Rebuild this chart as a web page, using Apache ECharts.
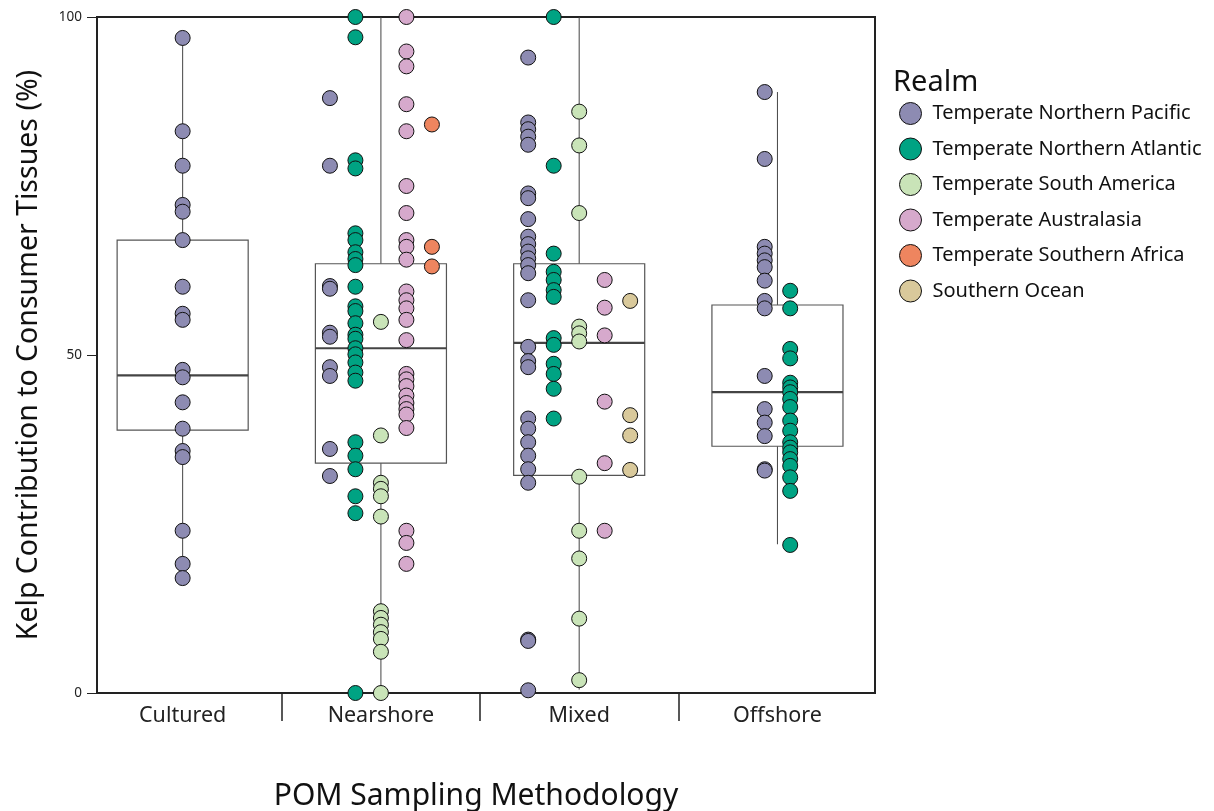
<!DOCTYPE html>
<html><head><meta charset="utf-8">
<script src="https://cdn.jsdelivr.net/npm/echarts@6/dist/echarts.min.js"></script>
<style>html,body{margin:0;padding:0;background:#fff}#c{width:1214px;height:811px}</style>
</head><body><div id="c"></div>
<script>
const categories = ['Cultured', 'Nearshore', 'Mixed', 'Offshore'];
const realms = ['Temperate Northern Pacific', 'Temperate Northern Atlantic', 'Temperate South America',
  'Temperate Australasia', 'Temperate Southern Africa', 'Southern Ocean'];
const realmColors = ['#8D8BB2', '#00A383', '#C9E4B8', '#D6A9CC', '#EE855F', '#D9C99B'];
const yTicks = [0, 50, 100];

// Points (Kelp contribution, %) by category and realm
const culturedTNP = [96.9, 83.1, 78.0, 72.2, 71.2, 67.0, 60.1, 56.1, 55.2, 47.8, 46.7, 43.0, 39.1, 35.8, 34.9, 24.0, 19.1, 17.0];

const nearshoreTNP = [88.0, 78.0, 60.2, 59.8, 53.3, 52.7, 48.2, 46.9, 36.1, 32.1];
const nearshoreTNA = [100, 97.0, 78.8, 77.6, 68.0, 67.0, 65.2, 64.2, 63.3, 60.1, 57.2, 56.5, 54.7, 53.0, 52.4, 51.0, 50.1, 48.9, 47.4, 46.2, 37.1, 35.1, 33.1, 29.1, 26.6, 0];
const nearshoreTSA = [54.9, 38.1, 31.1, 30.2, 29.1, 26.1, 12.1, 11.1, 10.1, 9.0, 8.0, 6.1, 0];
const nearshoreTA = [100, 94.9, 92.7, 87.1, 83.1, 75.0, 71.0, 67.0, 66.0, 64.1, 59.4, 58.1, 56.9, 55.2, 52.2, 47.2, 46.4, 45.4, 44.0, 42.9, 42.0, 41.2, 39.2, 24.0, 22.2, 19.1];
const nearshoreTSAf = [84.1, 66.0, 63.1];

const mixedTNP = [94.0, 84.4, 83.4, 82.3, 81.1, 73.9, 73.2, 70.1, 67.5, 66.4, 65.3, 64.3, 63.3, 62.1, 58.1, 51.2, 49.1, 48.2, 40.6, 39.1, 37.1, 35.1, 33.1, 31.1, 7.9, 7.7, 0.4];
const mixedTNA = [100, 78.0, 65.0, 62.3, 61.1, 59.6, 58.6, 52.5, 51.5, 48.7, 47.2, 45.0, 40.6];
const mixedTSA = [86.0, 81.0, 71.0, 54.2, 53.2, 52.0, 32.0, 24.0, 19.9, 11.0, 1.9];
const mixedTA = [61.1, 57.0, 52.9, 43.1, 34.0, 24.0];
const mixedSO = [58.0, 41.1, 38.1, 33.0];

const offshoreTNP = [88.9, 79.0, 66.0, 65.0, 64.0, 63.0, 61.0, 58.0, 56.9, 46.9, 42.0, 40.0, 38.0, 33.1, 32.9];
const offshoreTNA = [59.5, 56.9, 50.9, 49.5, 45.9, 45.2, 44.5, 43.5, 42.3, 40.3, 38.8, 37.1, 36.3, 35.6, 34.6, 33.6, 31.9, 29.9, 21.9];

// Box stats: [min, Q1, median, Q3, max]
const boxCultured = [17.0, 38.9, 47.0, 67.0, 96.9];
const boxNearshore = [0, 34.0, 51.0, 63.5, 100];
const boxMixed = [0.5, 32.2, 51.8, 63.5, 100];
const boxOffshore = [22.0, 36.5, 44.5, 57.4, 88.9];

const FONT = '"Noto Sans", "Open Sans", sans-serif';
const DODGE = 0.1286;
const BOX_W = 0.661;

const pointsByCat = [
  [culturedTNP, null, null, null, null, null],
  [nearshoreTNP, nearshoreTNA, nearshoreTSA, nearshoreTA, nearshoreTSAf, null],
  [mixedTNP, mixedTNA, mixedTSA, mixedTA, null, mixedSO],
  [offshoreTNP, offshoreTNA, null, null, null, null]
];
const boxes = [boxCultured, boxNearshore, boxMixed, boxOffshore];

const seriesData = realms.map(() => []);
pointsByCat.forEach((row, ci) => {
  const present = row.map((a, i) => a ? i : -1).filter(i => i >= 0);
  present.forEach((ri, k) => {
    const x = ci + (k - (present.length - 1) / 2) * DODGE;
    row[ri].forEach(v => seriesData[ri].push([x, v]));
  });
});

const chart = echarts.init(document.getElementById('c'), null, {renderer: 'canvas'});

const series = [{
  type: 'custom',
  silent: true,
  z: 1,
  data: boxes.map((b, i) => [i].concat(b)),
  encode: {x: 0, y: [1, 2, 3, 4, 5]},
  renderItem(params, api) {
    const x = api.value(0);
    const pMin = api.coord([x, api.value(1)]);
    const pQ1 = api.coord([x, api.value(2)]);
    const pMed = api.coord([x, api.value(3)]);
    const pQ3 = api.coord([x, api.value(4)]);
    const pMax = api.coord([x, api.value(5)]);
    const hw = api.size([BOX_W, 0])[0] / 2;
    const cx = pMax[0];
    return {
      type: 'group',
      children: [
        {type: 'line', shape: {x1: cx, y1: pMax[1], x2: cx, y2: pQ3[1]}, style: {stroke: '#444', lineWidth: 1}},
        {type: 'line', shape: {x1: cx, y1: pQ1[1], x2: cx, y2: pMin[1]}, style: {stroke: '#444', lineWidth: 1}},
        {type: 'rect', shape: {x: cx - hw, y: pQ3[1], width: 2 * hw, height: pQ1[1] - pQ3[1]},
          style: {fill: 'none', stroke: '#555', lineWidth: 1.2}},
        {type: 'line', shape: {x1: cx - hw, y1: pMed[1], x2: cx + hw, y2: pMed[1]}, style: {stroke: '#444', lineWidth: 2.2}}
      ]
    };
  }
}];

realms.forEach((name, i) => {
  series.push({
    name: name,
    type: 'scatter',
    z: 3,
    symbol: 'circle',
    symbolSize: 15,
    data: seriesData[i],
    itemStyle: {color: realmColors[i], borderColor: '#111', borderWidth: 1, opacity: 1},
    emphasis: {disabled: true}
  });
});

chart.setOption({
  animation: false,
  backgroundColor: '#fff',
  textStyle: {fontFamily: FONT},
  grid: {left: 97, right: 339, top: 17, bottom: 118, show: true, borderColor: '#222', borderWidth: 2, backgroundColor: 'transparent'},
  title: {text: 'Realm', left: 893, top: 68, padding: 0, textStyle: {fontFamily: FONT, fontSize: 29, fontWeight: 'normal', color: '#111'}},
  legend: {
    data: realms,
    orient: 'vertical',
    left: 899, top: 102,
    padding: 0,
    icon: 'circle',
    itemWidth: 22, itemHeight: 22, itemGap: 12.5,
    itemStyle: {borderColor: '#111', borderWidth: 1},
    textStyle: {fontFamily: FONT, fontSize: 20, color: '#111', padding: [0, 0, 0, 6]},
    selectedMode: false
  },
  xAxis: {
    type: 'value',
    min: -0.432, max: 3.492,
    axisLine: {show: true, onZero: false, lineStyle: {color: '#222', width: 2}},
    axisTick: {show: true, customValues: [0.5, 1.5, 2.5], length: 28, lineStyle: {color: '#222', width: 1.5}},
    axisLabel: {show: true, customValues: [0, 1, 2, 3], formatter: v => categories[Math.round(v)] || '',
      fontFamily: FONT, fontSize: 21.5, color: '#222', margin: 12},
    splitLine: {show: false}
  },
  yAxis: {
    type: 'value',
    min: 0, max: 100, interval: 50,
    axisLine: {show: true, onZero: false, lineStyle: {color: '#222', width: 2}},
    axisTick: {show: true, length: 10, lineStyle: {color: '#222', width: 1}},
    axisLabel: {fontFamily: FONT, fontSize: 13.5, color: '#222', margin: 15, formatter: v => yTicks.includes(v) ? String(v) : ''},
    splitLine: {show: false},
    name: 'Kelp Contribution to Consumer Tissues (%)',
    nameLocation: 'middle',
    nameGap: 54,
    nameTextStyle: {fontFamily: FONT, fontSize: 28.5, color: '#111'}
  },
  graphic: [{
    type: 'text',
    x: 476, y: 796,
    style: {text: 'POM Sampling Methodology', fontFamily: FONT, fontSize: 30, fill: '#111',
      textAlign: 'center', textVerticalAlign: 'middle'}
  }],
  series: series
});
</script>
</body></html>
